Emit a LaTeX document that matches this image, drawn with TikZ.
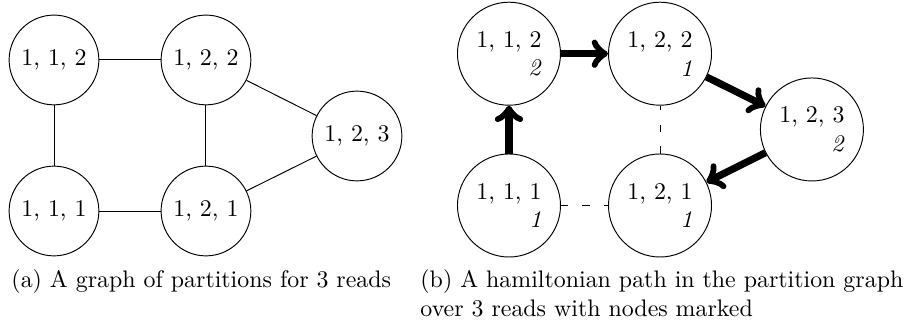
\documentclass[tikz,border=0pt]{standalone}
\usepackage{amsmath}
\usetikzlibrary{shapes,arrows,positioning}

\begin{document}
\begin{tikzpicture}
\tikzstyle{part} = [draw, circle, minimum size=1.32cm, inner sep=0pt]
\tikzstyle{markedPart} = [draw, circle, minimum size=1.515cm, inner sep=0pt, align=right]
\tikzstyle{pathArrow} = [->, line width=3pt]
\tikzstyle{unusedEdge} = [loosely dashed]
\useasboundingbox (0,0) rectangle (13.294,-4.794);

% (a) partition graph
\node[part] at (0.794,-0.882) (a112){1, 1, 2};
\node[part] at (3.029,-0.882) (a122){1, 2, 2};
\node[part] at (5.25,-2.0) (a123){1, 2, 3};
\node[part] at (0.794,-3.103) (a111){1, 1, 1};
\node[part] at (3.029,-3.103) (a121){1, 2, 1};

\draw (a112) -- (a122);
\draw (a112) -- (a111);
\draw (a111) -- (a121);
\draw (a122) -- (a121);
\draw (a122) -- (a123);
\draw (a121) -- (a123);

% (b) hamiltonian path, nodes marked
\node[markedPart] at (7.485,-0.79) (b112){1, 1, 2\\ \textit{2}};
\node[markedPart] at (9.706,-0.79) (b122){1, 2, 2\\ \textit{1}};
\node[markedPart] at (11.94,-1.904) (b123){1, 2, 3\\ \textit{2}};
\node[markedPart] at (7.485,-3.022) (b111){1, 1, 1\\ \textit{1}};
\node[markedPart] at (9.706,-3.022) (b121){1, 2, 1\\ \textit{1}};

\draw [pathArrow](b111) -- (b112);
\draw [pathArrow](b112) -- (b122);
\draw [pathArrow](b122) -- (b123);
\draw [pathArrow](b123) -- (b121);
\draw [unusedEdge](b111) -- (b121);
\draw [unusedEdge](b121) -- (b122);

% captions
\node[anchor=base west, inner sep=0pt] at (0.162,-4.235) (capA){(a) A graph of partitions for 3 reads};
\node[anchor=base west, inner sep=0pt, align=left] at (6.176,-4.657) (capB){(b) A hamiltonian path in the partition graph\\over 3 reads with nodes marked};
\end{tikzpicture}
\end{document}
